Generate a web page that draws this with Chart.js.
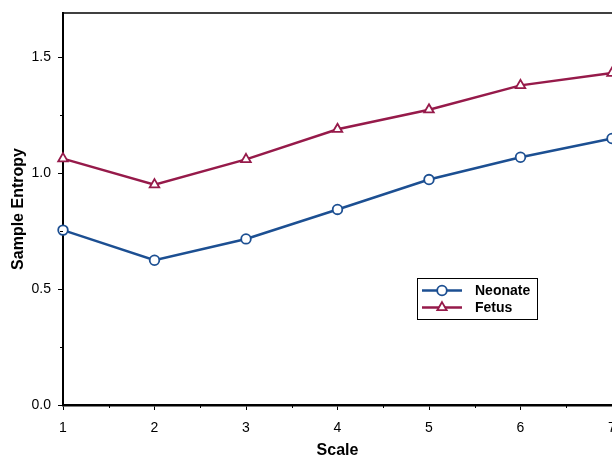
<!DOCTYPE html>
<html>
<head>
<meta charset="utf-8">
<script src="https://cdn.jsdelivr.net/npm/chart.js@4.4.1/dist/chart.umd.min.js"></script>
<style>
html,body{margin:0;padding:0;background:#fff;overflow:hidden;width:612px;height:456px;}
#wrap{position:relative;width:640px;height:456px;}
</style>
</head>
<body>
<div id="wrap"><canvas id="c" width="640" height="456"></canvas></div>
<script>
const scales = [1, 2, 3, 4, 5, 6, 7];
const neonate = [0.754, 0.624, 0.716, 0.843, 0.972, 1.068, 1.149];
const fetus = [1.062, 0.950, 1.059, 1.189, 1.273, 1.378, 1.431];
const yTicks = [0, 0.5, 1.0, 1.5];
const yMinorTicks = [0.25, 0.75, 1.25];
const xTicks = [1, 2, 3, 4, 5, 6, 7];
const xMinorTicks = [1.5, 2.5, 3.5, 4.5, 5.5, 6.5];
const seriesNames = ['Neonate', 'Fetus'];
const xTitle = 'Scale';
const yTitle = 'Sample Entropy';

const BLUE = '#1c4f92';
const RED = '#961a4a';
const FONT = "'Liberation Sans', Arial, sans-serif";

const extras = {
  id: 'extras',
  afterDraw(chart) {
    const ctx = chart.ctx;
    const a = chart.chartArea;
    const xs = chart.scales.x, ys = chart.scales.y;
    ctx.save();
    // top border
    ctx.strokeStyle = '#000';
    ctx.lineWidth = 1.5;
    ctx.beginPath();
    ctx.moveTo(a.left, a.top);
    ctx.lineTo(a.right + 30, a.top);
    ctx.stroke();
    // minor ticks
    ctx.lineWidth = 1;
    ctx.beginPath();
    yMinorTicks.forEach(v => {
      const p = Math.round(ys.getPixelForValue(v)) + 0.5;
      ctx.moveTo(a.left - 3, p); ctx.lineTo(a.left, p);
    });
    xMinorTicks.forEach(v => {
      const p = Math.round(xs.getPixelForValue(v)) + 0.5;
      ctx.moveTo(p, a.bottom); ctx.lineTo(p, a.bottom + 3);
    });
    ctx.stroke();
    // titles
    ctx.fillStyle = '#000';
    ctx.font = 'bold 16px ' + FONT;
    ctx.textAlign = 'center';
    ctx.textBaseline = 'alphabetic';
    ctx.fillText(xTitle, (a.left + a.right) / 2, 455);
    ctx.save();
    ctx.translate(23, (a.top + a.bottom) / 2);
    ctx.rotate(-Math.PI / 2);
    ctx.fillText(yTitle, 0, 0);
    ctx.restore();
    // legend
    const bx = 417, by = 278, bw = 120, bh = 41;
    ctx.fillStyle = '#fff';
    ctx.fillRect(bx, by, bw, bh);
    ctx.strokeStyle = '#000';
    ctx.lineWidth = 1;
    ctx.strokeRect(bx + 0.5, by + 0.5, bw, bh);
    const rows = [
      {name: seriesNames[0], color: BLUE, style: 'circle', y: 290.5},
      {name: seriesNames[1], color: RED, style: 'triangle', y: 307.5}
    ];
    rows.forEach(r => {
      ctx.strokeStyle = r.color;
      ctx.lineWidth = 2.5;
      ctx.beginPath();
      ctx.moveTo(422, r.y); ctx.lineTo(462, r.y);
      ctx.stroke();
      ctx.fillStyle = '#fff';
      ctx.lineWidth = 1.8;
      ctx.beginPath();
      if (r.style === 'circle') {
        ctx.arc(442, r.y, 4.8, 0, Math.PI * 2);
      } else {
        const rad = 5.4;
        ctx.moveTo(442, r.y - rad);
        ctx.lineTo(442 + rad * 0.866, r.y + rad * 0.5);
        ctx.lineTo(442 - rad * 0.866, r.y + rad * 0.5);
        ctx.closePath();
      }
      ctx.fill();
      ctx.stroke();
      ctx.fillStyle = '#000';
      ctx.font = 'bold 14px ' + FONT;
      ctx.textAlign = 'left';
      ctx.textBaseline = 'middle';
      ctx.fillText(r.name, 475, r.y + 0.5);
    });
    ctx.restore();
  }
};

new Chart(document.getElementById('c'), {
  type: 'line',
  data: {
    datasets: [
      {
        label: seriesNames[0],
        data: scales.map((s, i) => ({x: s, y: neonate[i]})),
        borderColor: BLUE,
        borderWidth: 2.5,
        pointStyle: 'circle',
        pointRadius: 4.8,
        pointBorderWidth: 1.8,
        pointBackgroundColor: '#fff',
        pointBorderColor: BLUE,
        tension: 0
      },
      {
        label: seriesNames[1],
        data: scales.map((s, i) => ({x: s, y: fetus[i]})),
        borderColor: RED,
        borderWidth: 2.5,
        pointStyle: 'triangle',
        pointRadius: 5.5,
        pointBorderWidth: 1.8,
        pointBackgroundColor: '#fff',
        pointBorderColor: RED,
        tension: 0
      }
    ]
  },
  options: {
    responsive: false,
    devicePixelRatio: 1,
    animation: false,
    clip: false,
    layout: {padding: {left: 0, right: 28, top: 13, bottom: 0}},
    plugins: {legend: {display: false}, tooltip: {enabled: false}},
    scales: {
      x: {
        type: 'linear',
        min: 1, max: 7,
        afterBuildTicks: s => { s.ticks = xTicks.map(v => ({value: v})); },
        afterFit: s => { s.height = 51; s.paddingLeft = 0; s.paddingRight = 0; s.paddingTop = 0; s.paddingBottom = 0; },
        grid: {display: true, drawOnChartArea: false, drawTicks: true, tickLength: 5, color: '#000', lineWidth: 1},
        border: {display: true, color: '#000', width: 2.5},
        ticks: {color: '#000', font: {family: FONT, size: 14}, padding: 10, maxRotation: 0,
          callback: v => String(v)}
      },
      y: {
        type: 'linear',
        min: 0, max: 1.69,
        afterBuildTicks: s => { s.ticks = yTicks.map(v => ({value: v})); },
        afterFit: s => { s.width = 63; s.paddingLeft = 0; s.paddingRight = 0; s.paddingTop = 0; s.paddingBottom = 0; },
        grid: {display: true, drawOnChartArea: false, drawTicks: true, tickLength: 5, color: '#000', lineWidth: 1},
        border: {display: true, color: '#000', width: 2},
        ticks: {color: '#000', font: {family: FONT, size: 14}, padding: 7,
          callback: v => v.toFixed(1)}
      }
    }
  },
  plugins: [extras]
});
</script>
</body>
</html>
